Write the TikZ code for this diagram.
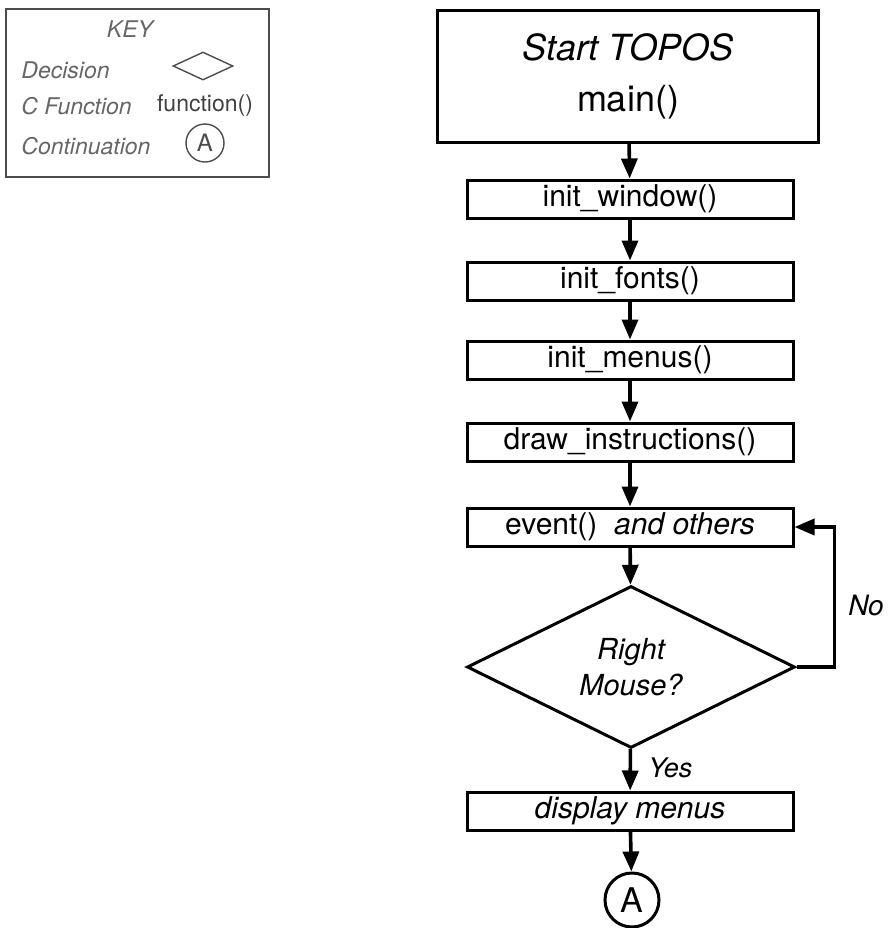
\documentclass[tikz,border=0pt]{standalone}
\usepackage{fontspec}
\setmainfont{TeX Gyre Heros}
\usetikzlibrary{shapes.geometric,arrows.meta}

\begin{document}
\begin{tikzpicture}[x=0.5pt,y=-0.5pt,
    fbox/.style={draw,line width=1.5pt,minimum width=163pt,minimum height=19pt,
      inner sep=0pt,font=\fontsize{15}{16}\selectfont},
    flow/.style={line width=1.8pt,-{Triangle[length=10pt,width=8pt]}},
    keytext/.style={black!60,anchor=west,inner sep=0pt,
      font=\fontsize{11.5}{13}\selectfont\itshape},
    keyline/.style={black!70,line width=0.7pt}]
  \useasboundingbox (0,0) rectangle (888,928);

  % key
  \draw[keyline] (6,9) rectangle (269,177);
  \node[black!60,font=\fontsize{11.5}{13}\selectfont\itshape] (keytitle) at (130,29) {KEY};
  \node[keytext] (kdec) at (21,70) {Decision};
  \node[keytext] (kfun) at (21,106) {C Function};
  \node[keytext] (kcont) at (21,146) {Continuation};
  \node[diamond,aspect=2,draw,keyline,minimum width=30pt,minimum height=14pt,
    inner sep=0pt] (kdiamond) at (203,66) {};
  \node[black!75,font=\fontsize{11.5}{13}\selectfont] (kfunction) at (205,106) {function()};
  \node[circle,draw,keyline,minimum size=19pt,inner sep=0pt,
    font=\fontsize{12}{14}\selectfont] (kcircle) at (205,143) {A};

  % flow chart
  \node[draw,line width=1.5pt,minimum width=190.5pt,minimum height=66pt,align=center,
    font=\fontsize{18}{25.5}\selectfont] (start) at (628,76) {\textit{Start TOPOS}\\main()};
  \node[fbox] (window) at (630,199) {init\_window()};
  \node[fbox] (fonts) at (630,281) {init\_fonts()};
  \node[fbox] (menus) at (630,360) {init\_menus()};
  \node[fbox] (instr) at (630,442) {draw\_instructions()};
  \node[fbox] (event) at (630,527) {event()\ \ \textit{and others}};
  \node[diamond,aspect=2.02,draw,line width=1.5pt,minimum width=164pt,minimum height=81pt,
    inner sep=0pt,align=center,font=\fontsize{14.5}{18}\selectfont\itshape] (mouse) at (631,667)
    {Right\\Mouse?};
  \node[fbox,font=\fontsize{15}{16}\selectfont\itshape] (display) at (630,811) {display menus};
  \node[circle,draw,line width=1.5pt,minimum size=27pt,inner sep=0pt,
    font=\fontsize{17}{19}\selectfont] (contA) at (632,900) {A};

  \node[font=\fontsize{14}{16}\selectfont\itshape] (nolabel) at (866,605) {No};
  \node[anchor=west,inner sep=0pt,font=\fontsize{13.5}{16}\selectfont\itshape] (yeslabel) at (648,768) {Yes};

  \path[flow]
    (start) edge (window)
    (window) edge (fonts)
    (fonts) edge (menus)
    (menus) edge (instr)
    (instr) edge (event)
    (event) edge (mouse)
    (mouse) edge (display)
    (display) edge (contA)
  ;
  \draw[flow] (mouse.east) -- ++(38,0) |- (event.east);
\end{tikzpicture}
\end{document}
